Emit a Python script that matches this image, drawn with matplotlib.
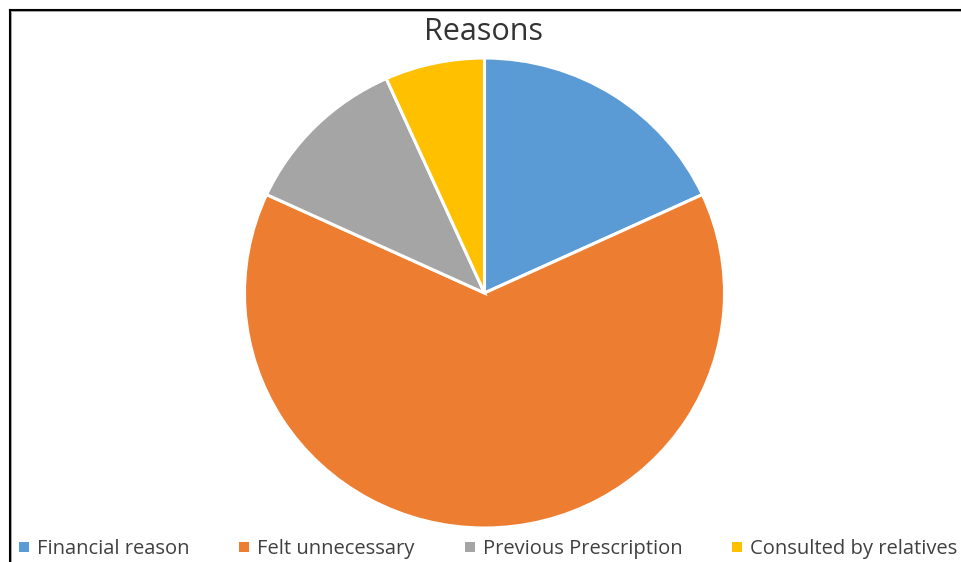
import matplotlib
matplotlib.use("Agg")
import matplotlib.pyplot as plt
from matplotlib.lines import Line2D
from matplotlib.patches import Rectangle

categories = ["Financial reason", "Felt unnecessary", "Previous Prescription", "Consulted by relatives"]
values = [27, 95, 17, 10]
colors = ["#5B9BD5", "#ED7D31", "#A5A5A5", "#FFC000"]
title = "Reasons"

W, H = 962, 562
fig = plt.figure(figsize=(W / 100, H / 100), dpi=100)
fig.patch.set_facecolor("white")

cx, cy, rx, ry = 484.5, 293, 240, 235
ax = fig.add_axes([(cx - rx) / W, (H - cy - ry) / H, 2 * rx / W, 2 * ry / H])
ax.pie(values, colors=colors, startangle=90, counterclock=False,
       wedgeprops=dict(edgecolor="white", linewidth=2.2))
ax.set_aspect("auto")
ax.set_xlim(-1, 1)
ax.set_ylim(-1, 1)
ax.axis("off")

fig.text(484 / W, 1 - 32 / H, title, ha="center", va="center", fontsize=22,
         color="#333333", family="Open Sans")

# legend
leg_x = [19, 239, 465, 732]
leg_y = 548
for x, c, lab in zip(leg_x, colors, categories):
    fig.patches.append(Rectangle((x / W, 1 - (leg_y + 4) / H), 10 / W, 10 / H,
                                 transform=fig.transFigure, facecolor=c, edgecolor="none"))
    fig.text((x + 18) / W, 1 - (leg_y + 1) / H, lab, ha="left", va="center", fontsize=14.5,
             color="#404040", family="Open Sans")

# frame lines (left and top)
fig.add_artist(Line2D([11 / W, 11 / W], [0, 1 - 10 / H], color="#999999", lw=1.2, transform=fig.transFigure))
fig.add_artist(Line2D([10 / W, 1], [1 - 11 / H, 1 - 11 / H], color="#999999", lw=1.2, transform=fig.transFigure))
fig.add_artist(Line2D([9.5 / W, 9.5 / W], [0, 1 - 9.5 / H], color="black", lw=1.5, transform=fig.transFigure))
fig.add_artist(Line2D([9.5 / W, 1], [1 - 9.5 / H, 1 - 9.5 / H], color="black", lw=1.5, transform=fig.transFigure))

fig.savefig("out.png", dpi=100, facecolor="white")
